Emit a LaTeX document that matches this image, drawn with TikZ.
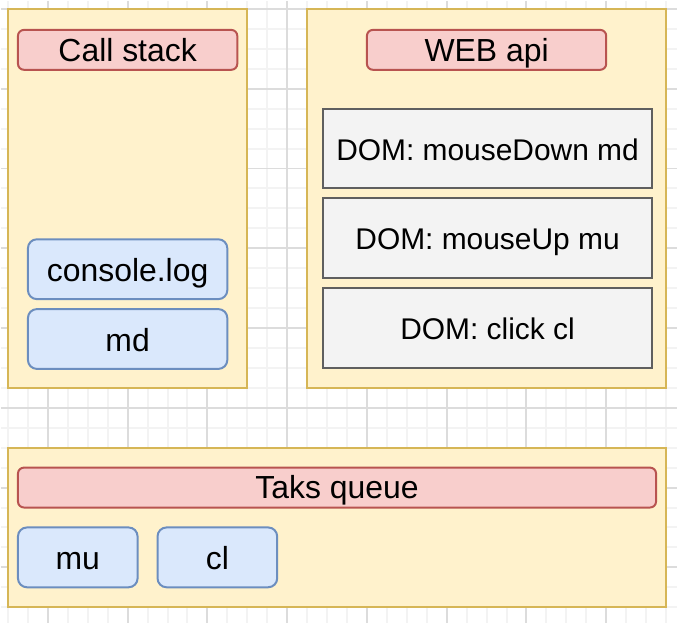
\documentclass[tikz,border=0pt]{standalone}
\usepackage{fontspec}
\setmainfont{Liberation Sans}
\usepackage{tikz}
\usetikzlibrary{positioning}

\definecolor{panelfill}{HTML}{FFF2CC}
\definecolor{panelline}{HTML}{D6B656}
\definecolor{headfill}{HTML}{F8CECC}
\definecolor{headline}{HTML}{B85450}
\definecolor{itemfill}{HTML}{DAE8FC}
\definecolor{itemline}{HTML}{6C8EBF}
\definecolor{domfill}{HTML}{F3F3F3}
\definecolor{domline}{HTML}{5F5F5F}
\definecolor{gridminor}{HTML}{F3F3F3}
\definecolor{gridmajor}{HTML}{DCDCDC}

\begin{document}
\begin{tikzpicture}[
  x=0.5pt, y=-0.5pt,
  node distance=5pt,
  panel/.style={draw=panelline, fill=panelfill, line width=1pt,
                outer sep=0pt, inner sep=0pt},
  head/.style={draw=headline, fill=headfill, line width=1pt,
               rounded corners=3pt, outer sep=0pt, minimum height=20pt,
               text height=11.7pt, text depth=0.5pt,
               font=\fontsize{16}{19}\selectfont},
  item/.style={draw=itemline, fill=itemfill, line width=1pt,
               rounded corners=4.5pt, outer sep=0pt, minimum height=30pt,
               text height=12.3pt, text depth=0pt,
               font=\fontsize{16}{19}\selectfont},
  dom/.style={draw=domline, fill=domfill, line width=1pt,
              outer sep=0pt, minimum width=165pt, minimum height=40pt,
              text height=11.5pt, text depth=0pt,
              font=\fontsize{15}{18}\selectfont}
]

%% -- background grid ------------------------------------------------
\fill[white] (0,0) rectangle (678,624);
\foreach \gx in {7,27,...,667}
  \draw[gridminor, line width=1pt] (\gx,0) -- (\gx,624);
\foreach \gy in {8,28,...,608}
  \draw[gridminor, line width=1pt] (0,\gy) -- (678,\gy);
\foreach \gx in {47,127,...,607}
  \draw[gridmajor, line width=1pt] (\gx,0) -- (\gx,624);
\foreach \gy in {8,88,...,568}
  \draw[gridmajor, line width=1pt] (0,\gy) -- (678,\gy);

%% -- panels ---------------------------------------------------------
\node[panel, minimum width=120pt, minimum height=190pt] (stack) at (127,198) {};
\node[panel, minimum width=180pt, minimum height=190pt] (webapi) at (487,198) {};
\node[panel, minimum width=330pt, minimum height=80pt] (queue) at (337,528) {};

%% -- call stack -----------------------------------------------------
\node[head, minimum width=110pt] (stackhead) at (127,49) {Call stack};
\node[item, minimum width=100pt] (console) at (127,269) {console.log};
\node[item, minimum width=100pt, below=of console] (md) {md};

%% -- web api --------------------------------------------------------
\node[head, minimum width=120pt] (webhead) at (487,49) {WEB api};
\node[dom] (mousedown) at (488,148) {DOM: mouseDown md};
\node[dom, below=of mousedown] (mouseup) {DOM: mouseUp mu};
\node[dom, below=of mouseup] (click) {DOM: click cl};

%% -- task queue -----------------------------------------------------
\node[head, minimum width=320pt] (queuehead) at (337,488) {Taks queue};
\node[item, minimum width=60pt] (mu) at (77,558) {mu};
\node[item, minimum width=60pt, right=10pt of mu] (cl) {cl};

\useasboundingbox (0,0) rectangle (678,624);
\end{tikzpicture}
\end{document}
